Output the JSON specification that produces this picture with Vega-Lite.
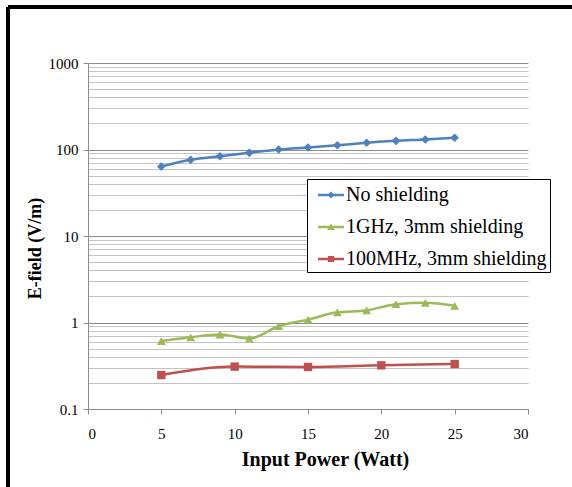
{
  "$schema": "https://vega.github.io/schema/vega-lite/v6.json",
  "width": 440,
  "height": 346,
  "autosize": "none",
  "padding": {"left": 88, "top": 63, "right": 44, "bottom": 78},
  "background": "white",
  "config": {
    "view": {"stroke": null},
    "font": "Liberation Serif",
    "axis": {"labelFont": "Liberation Serif", "titleFont": "Liberation Serif", "labelColor": "black", "titleColor": "black"},
    "legend": {"labelFont": "Liberation Serif"}
  },
  "data": {
    "values": [
      {"series": "No shielding", "power": 5, "E": 63.5},
      {"series": "No shielding", "power": 7, "E": 76},
      {"series": "No shielding", "power": 9, "E": 83.6},
      {"series": "No shielding", "power": 11, "E": 91.6},
      {"series": "No shielding", "power": 13, "E": 100},
      {"series": "No shielding", "power": 15, "E": 105.5},
      {"series": "No shielding", "power": 17, "E": 112},
      {"series": "No shielding", "power": 19, "E": 119.6},
      {"series": "No shielding", "power": 21, "E": 126},
      {"series": "No shielding", "power": 23, "E": 130.6},
      {"series": "No shielding", "power": 25, "E": 136.7},
      {"series": "1GHz, 3mm shielding", "power": 5, "E": 0.61},
      {"series": "1GHz, 3mm shielding", "power": 7, "E": 0.675},
      {"series": "1GHz, 3mm shielding", "power": 9, "E": 0.726},
      {"series": "1GHz, 3mm shielding", "power": 11, "E": 0.652},
      {"series": "1GHz, 3mm shielding", "power": 13, "E": 0.906},
      {"series": "1GHz, 3mm shielding", "power": 15, "E": 1.08},
      {"series": "1GHz, 3mm shielding", "power": 17, "E": 1.31},
      {"series": "1GHz, 3mm shielding", "power": 19, "E": 1.38},
      {"series": "1GHz, 3mm shielding", "power": 21, "E": 1.63},
      {"series": "1GHz, 3mm shielding", "power": 23, "E": 1.69},
      {"series": "1GHz, 3mm shielding", "power": 25, "E": 1.56},
      {"series": "100MHz, 3mm shielding", "power": 5, "E": 0.247},
      {"series": "100MHz, 3mm shielding", "power": 10, "E": 0.309},
      {"series": "100MHz, 3mm shielding", "power": 15, "E": 0.306},
      {"series": "100MHz, 3mm shielding", "power": 20, "E": 0.32},
      {"series": "100MHz, 3mm shielding", "power": 25, "E": 0.331}
    ]
  },
  "encoding": {
    "x": {
      "field": "power", "type": "quantitative",
      "scale": {"domain": [0, 30], "nice": false, "zero": false},
      "axis": {
        "values": [0, 5, 10, 15, 20, 25, 30],
        "grid": false,
        "tickSize": 5, "tickColor": "#8c8c8c", "domainColor": "#8c8c8c",
        "labelFont": "Liberation Serif", "labelFontSize": 15, "labelColor": "black",
        "labelPadding": 12,
        "title": "Input Power (Watt)",
        "titleFont": "Liberation Serif", "titleFontSize": 20, "titleFontWeight": "bold", "titleColor": "black",
        "titleX": 237, "titleY": 50, "titleBaseline": "middle", "titleAnchor": "middle"
      }
    },
    "y": {
      "field": "E", "type": "quantitative",
      "scale": {"type": "log", "domain": [0.1, 1000], "nice": false},
      "axis": {
        "values": [0.1, 0.2, 0.3, 0.4, 0.5, 0.6, 0.7, 0.8, 0.9, 1, 2, 3, 4, 5, 6, 7, 8, 9, 10, 20, 30, 40, 50, 60, 70, 80, 90, 100, 200, 300, 400, 500, 600, 700, 800, 900, 1000],
        "grid": true,
        "gridColor": {"condition": {"test": "indexof([0.1,1,10,100,1000], datum.value) >= 0", "value": "#8c8c8c"}, "value": "#c4c4c4"},
        "gridWidth": 1,
        "tickOpacity": {"condition": {"test": "indexof([0.1,1,10,100,1000], datum.value) >= 0", "value": 1}, "value": 0},
        "tickSize": 5, "tickColor": "#8c8c8c", "domainColor": "#8c8c8c",
        "labelExpr": "indexof([0.1,1,10,100,1000], datum.value) >= 0 ? format(datum.value, '~g') : ''",
        "labelOverlap": false,
        "labelFont": "Liberation Serif", "labelFontSize": 15, "labelColor": "black",
        "labelPadding": 5,
        "title": "E-field (V/m)",
        "titleFont": "Liberation Serif", "titleFontSize": 18, "titleFontWeight": "bold", "titleColor": "black",
        "titleX": -53, "titleY": 185, "titleAngle": -90, "titleBaseline": "middle", "titleAnchor": "middle"
      }
    }
  },
  "layer": [
    {
      "mark": {"type": "rule", "color": "black", "strokeWidth": 2.5},
      "encoding": {
        "x": {"datum": -5.4545, "type": "quantitative"},
        "y": {"datum": 4441, "type": "quantitative"},
        "y2": {"datum": 0.01}
      }
    },
    {
      "mark": {"type": "rule", "color": "black", "strokeWidth": 2.5},
      "encoding": {
        "x": {"datum": -5.4545, "type": "quantitative"},
        "x2": {"datum": 35},
        "y": {"datum": 4441, "type": "quantitative"}
      }
    },
    {
      "mark": {"type": "line", "strokeWidth": 2.5, "interpolate": "monotone"},
      "encoding": {
        "detail": {"field": "series"},
        "color": {
          "field": "series", "type": "nominal",
          "scale": {
            "domain": ["No shielding", "1GHz, 3mm shielding", "100MHz, 3mm shielding"],
            "range": ["#4F81BD", "#9BBB59", "#C0504D"]
          },
          "legend": {
            "orient": "none", "legendX": 219, "legendY": 116,
            "title": null,
            "strokeColor": "black", "fillColor": "white",
            "padding": 3,
            "symbolSize": 676,
            "symbolOffset": 8,
            "rowPadding": 9,
            "labelOffset": 2,
            "labelFont": "Liberation Serif", "labelFontSize": 20, "labelColor": "black",
            "labelLimit": 300,
            "encode": {
              "symbols": {
                "update": {
                  "shape": {"signal": "datum.value === 'No shielding' ? 'M-1,-0.09H1V0.09H-1Z M0,-0.27L0.27,0L0,0.27L-0.27,0Z' : datum.value === '1GHz, 3mm shielding' ? 'M-1,-0.09H1V0.09H-1Z M0,-0.27L0.3,0.24L-0.3,0.24Z' : 'M-1,-0.09H1V0.09H-1Z M-0.24,-0.24H0.24V0.24H-0.24Z'"},
                  "fill": {"signal": "datum.value === 'No shielding' ? '#4F81BD' : datum.value === '1GHz, 3mm shielding' ? '#9BBB59' : '#C0504D'"},
                  "stroke": {"value": "transparent"},
                  "strokeWidth": {"value": 0},
                  "opacity": {"value": 1},
                  "fillOpacity": {"value": 1}
                }
              }
            }
          }
        }
      }
    },
    {
      "transform": [{"filter": "datum.series === 'No shielding'"}],
      "mark": {"type": "point", "filled": true, "opacity": 1, "shape": "diamond", "size": 75},
      "encoding": {"color": {"field": "series", "type": "nominal"}}
    },
    {
      "transform": [{"filter": "datum.series === '1GHz, 3mm shielding'"}],
      "mark": {"type": "point", "filled": true, "opacity": 1, "shape": "triangle-up", "size": 80},
      "encoding": {"color": {"field": "series", "type": "nominal"}}
    },
    {
      "transform": [{"filter": "datum.series === '100MHz, 3mm shielding'"}],
      "mark": {"type": "point", "filled": true, "opacity": 1, "shape": "square", "size": 70},
      "encoding": {"color": {"field": "series", "type": "nominal"}}
    }
  ]
}
